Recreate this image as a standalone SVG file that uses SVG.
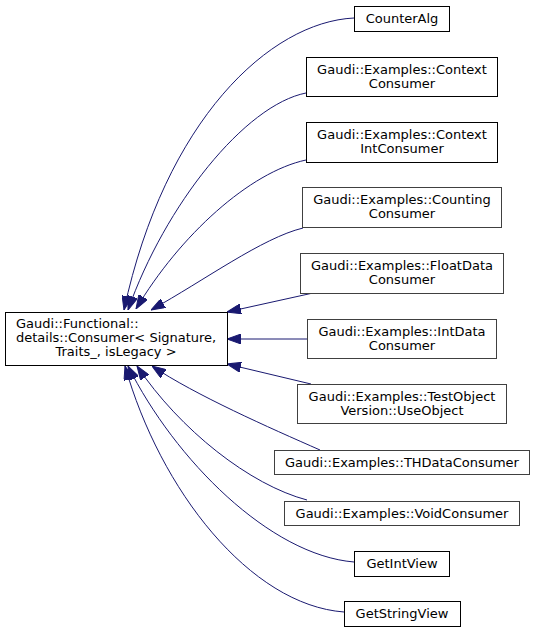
<svg xmlns="http://www.w3.org/2000/svg" width="535" height="633" viewBox="0 0 535 633">
<style>
.n rect{fill:#fff;stroke:#404040;stroke-width:1}
.n.k rect{stroke:#000}
.n text{font-family:"DejaVu Sans",sans-serif;font-size:13px;fill:#000;text-anchor:middle}
.e path{fill:none;stroke:#191970;stroke-width:1}
</style>
<defs>
<marker id="ah" markerUnits="userSpaceOnUse" viewBox="0 0 14 10" refX="14" refY="5" markerWidth="14" markerHeight="10" orient="auto">
<path d="M0,0 L14,5 L0,10 z" fill="#191970" stroke="#191970" stroke-width="1"/>
</marker>
</defs>
<g id="edges" class="e">
<path d="M354,18 C270,22 165,120 124,310" marker-end="url(#ah)"/>
<path d="M306,93 C245,105 165,205 128,310" marker-end="url(#ah)"/>
<path d="M306,160 C250,172 180,235 136,309" marker-end="url(#ah)"/>
<path d="M303,228 C262,238 205,280 151,310" marker-end="url(#ah)"/>
<path d="M313,293 L227,312" marker-end="url(#ah)"/>
<path d="M308,339 L227,339" marker-end="url(#ah)"/>
<path d="M311,384 L227,364" marker-end="url(#ah)"/>
<path d="M320,450 C270,428 195,395 152,366" marker-end="url(#ah)"/>
<path d="M307,500 C250,485 180,430 137,366" marker-end="url(#ah)"/>
<path d="M354,562 C270,555 175,460 128,366" marker-end="url(#ah)"/>
<path d="M344,612 C250,605 160,490 125,366" marker-end="url(#ah)"/>
</g>
<g id="main" class="n k">
<rect x="5.5" y="312.5" width="222" height="53"/>
<text x="16" y="328" style="text-anchor:start">Gaudi::Functional::</text>
<text x="16" y="342" style="text-anchor:start">details::Consumer&lt; Signature,</text>
<text x="116" y="356">Traits_, isLegacy &gt;</text>
</g>
<g id="counteralg" class="n k">
<rect x="354.5" y="6.5" width="95" height="25"/>
<text x="402" y="23">CounterAlg</text>
</g>
<g id="contextconsumer" class="n k">
<rect x="306.5" y="57.5" width="191" height="39"/>
<text x="402" y="73.5">Gaudi::Examples::Context</text>
<text x="402" y="87.5">Consumer</text>
</g>
<g id="contextintconsumer" class="n k">
<rect x="306.5" y="122.5" width="191" height="40"/>
<text x="402" y="139">Gaudi::Examples::Context</text>
<text x="402" y="153">IntConsumer</text>
</g>
<g id="countingconsumer" class="n">
<rect x="302.5" y="187.5" width="199" height="40"/>
<text x="402" y="204">Gaudi::Examples::Counting</text>
<text x="402" y="218">Consumer</text>
</g>
<g id="floatdataconsumer" class="n">
<rect x="300.5" y="253.5" width="203" height="40"/>
<text x="402" y="270">Gaudi::Examples::FloatData</text>
<text x="402" y="284">Consumer</text>
</g>
<g id="intdataconsumer" class="n">
<rect x="307.5" y="319.5" width="189" height="39"/>
<text x="402" y="335.5">Gaudi::Examples::IntData</text>
<text x="402" y="349.5">Consumer</text>
</g>
<g id="testobjectuseobject" class="n">
<rect x="297.5" y="384.5" width="209" height="39"/>
<text x="402" y="400.5">Gaudi::Examples::TestObject</text>
<text x="402" y="414.5">Version::UseObject</text>
</g>
<g id="thdataconsumer" class="n">
<rect x="274.5" y="450.5" width="255" height="24"/>
<text x="402" y="467">Gaudi::Examples::THDataConsumer</text>
</g>
<g id="voidconsumer" class="n">
<rect x="284.5" y="501.5" width="235" height="24"/>
<text x="402" y="518">Gaudi::Examples::VoidConsumer</text>
</g>
<g id="getintview" class="n k">
<rect x="354.5" y="551.5" width="95" height="25"/>
<text x="402" y="568">GetIntView</text>
</g>
<g id="getstringview" class="n k">
<rect x="344.5" y="601.5" width="116" height="25"/>
<text x="402" y="618">GetStringView</text>
</g>
</svg>
